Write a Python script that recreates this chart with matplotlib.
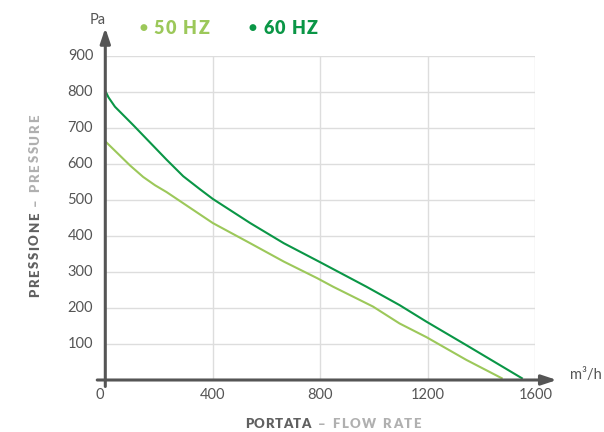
import matplotlib.pyplot as plt
import numpy as np

# data
flow_50 = [0, 92, 141, 185, 228, 340, 400, 539, 664, 788, 848, 996, 1095, 1195, 1343, 1475]
pres_50 = [663, 596, 564, 541, 522, 466, 436, 380, 329, 283, 259, 204, 157, 119, 56, 5]
flow_60 = [0, 12, 36, 104, 166, 228, 290, 352, 400, 539, 664, 800, 972, 1095, 1195, 1343, 1550]
pres_60 = [803, 785, 759, 708, 660, 612, 566, 530, 503, 436, 380, 327, 259, 208, 162, 97, 5]
x_ticks = [400, 800, 1200, 1600]
y_ticks = [100, 200, 300, 400, 500, 600, 700, 800, 900]

c50 = '#9cc85a'
c60 = '#0a9646'
axis_col = '#555555'
font = 'Lato'

W, H = 604, 432
fig = plt.figure(figsize=(W / 100, H / 100), dpi=100)
renderer = fig.canvas.get_renderer()


def fx(px):
    return px / W


def fy(py):
    return 1 - py / H


def spaced_text(start, pos, s, length, vertical=False, **kw):
    # draw text letter by letter so it spans `length` pixels (letter spacing)
    widths = []
    for ch in s:
        if ch == ' ':
            widths.append(3.0)
            continue
        t = fig.text(0, 0, ch, **kw)
        widths.append(t.get_window_extent(renderer).width)
        t.remove()
    gap = (length - sum(widths)) / max(len(s) - 1, 1)
    cur = start
    for ch, w in zip(s, widths):
        if ch != ' ':
            if vertical:
                fig.text(fx(pos), fy(cur), ch, rotation=90, ha='center',
                         va='bottom', **kw)
            else:
                fig.text(fx(cur), fy(pos), ch, ha='left', va='center', **kw)
        cur = cur - (w + gap) if vertical else cur + (w + gap)


ax = fig.add_axes([fx(105.3), fy(380), (535.3 - 105.3) / W, (380 - 56) / H])
ax.set_xlim(0, 1600)
ax.set_ylim(0, 900)

# grid
for x in x_ticks:
    ax.plot([x, x], [0, 900], color='#dddddd', lw=1, zorder=1)
for y in y_ticks:
    ax.plot([0, 1600], [y, y], color='#dddddd', lw=1, zorder=1)

ax.plot(flow_50, pres_50, color=c50, lw=1.5, zorder=3, solid_joinstyle='round')
ax.plot(flow_60, pres_60, color=c60, lw=1.5, zorder=3, solid_joinstyle='round')

for s in ax.spines.values():
    s.set_visible(False)
ax.set_xticks([])
ax.set_yticks([])
ax.patch.set_alpha(0)

# axis arrows
arrow = dict(arrowstyle='-|>,head_length=0.9,head_width=0.3',
             color=axis_col, lw=2.2, shrinkA=0, shrinkB=0)
ax.annotate('', xy=(1680, 0), xytext=(-30, 0), arrowprops=arrow,
            annotation_clip=False, zorder=4)
ax.annotate('', xy=(0, 978), xytext=(0, -18), arrowprops=arrow,
            annotation_clip=False, zorder=4)

# tick labels
tick_kw = dict(fontsize=10.5, color=axis_col, family=font)
for x in x_ticks:
    ax.text(x, -42, str(x), ha='center', va='center', **tick_kw)
ax.text(-22, -42, '0', ha='center', va='center', **tick_kw)
for y in y_ticks:
    ax.text(-45, y, str(y), ha='right', va='center', **tick_kw)

fig.text(fx(98), fy(20), 'Pa', ha='center', va='center', **tick_kw)
fig.text(fx(586), fy(375), 'm³/h', ha='center', va='center', **tick_kw)

# legend
fig.text(fx(143), fy(27.5), '●', ha='center', va='center', fontsize=6.5,
         color=c50, family='DejaVu Sans')
spaced_text(153, 28, '50 HZ', 57, fontsize=13, color=c50, family=font,
            fontweight='heavy')
fig.text(fx(252), fy(27.5), '●', ha='center', va='center', fontsize=6.5,
         color=c60, family='DejaVu Sans')
spaced_text(263, 28, '60 HZ', 55, fontsize=13, color=c60, family=font,
            fontweight='heavy')

# axis titles
dark = dict(fontsize=9.5, color='#606060', family=font, fontweight='heavy')
light = dict(fontsize=9.5, color='#b0b0b0', family=font, fontweight='heavy')
spaced_text(245, 424, 'PORTATA', 66, **dark)
spaced_text(318, 424, '– FLOW RATE', 103, **light)
spaced_text(297, 35, 'PRESSIONE', 84, vertical=True, **dark)
spaced_text(206, 35, '– PRESSURE', 91, vertical=True, **light)

fig.savefig('out.png', dpi=100)
